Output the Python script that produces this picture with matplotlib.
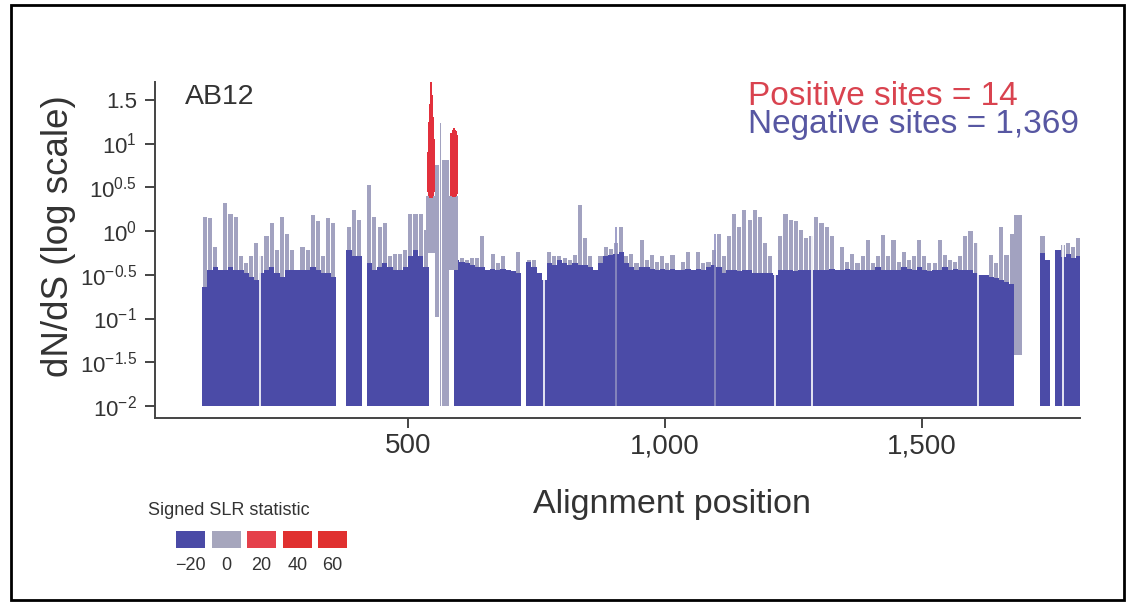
import numpy as np
import matplotlib.pyplot as plt
from matplotlib.patches import Rectangle

plt.rcParams['font.family'] = ['Liberation Sans', 'DejaVu Sans']
plt.rcParams['mathtext.fontset'] = 'custom'
plt.rcParams['mathtext.rm'] = 'Liberation Sans'
plt.rcParams['mathtext.it'] = 'Liberation Sans:italic'
plt.rcParams['mathtext.bf'] = 'Liberation Sans:bold'

# per-site values are binned by 10 alignment positions, starting at 100
# heights are log10(dN/dS); None = no sites in that bin
bin_start = 100
bin_width = 10

# upper end of the blue (negative SLR) sites per bin
blue_top = [
    -0.64, -0.45, -0.41, -0.45, -0.45, -0.41, -0.45, -0.45, -0.48, -0.52,
    -0.56, -0.48, -0.45, -0.41, -0.48, -0.52, -0.45, -0.45, -0.45, -0.45,
    -0.45, -0.41, -0.45, -0.48, -0.48, -0.52, None, None, -0.22, -0.29,
    -0.29, None, -0.37, -0.45, -0.41, -0.37, -0.41, -0.45, -0.45, -0.41,
    -0.29, -0.22, -0.29, -0.41, None, None, None, None, None, -0.33,
    -0.35, -0.37, -0.39, -0.41, -0.41, -0.45, -0.43, -0.45, -0.43, -0.45,
    -0.46, -0.48, None, -0.35, -0.41, -0.48, -0.56, -0.37, -0.39, -0.33,
    -0.37, -0.39, -0.37, -0.39, -0.39, -0.41, -0.45, -0.37, -0.29, -0.27,
    -0.26, -0.24, -0.37, -0.41, -0.45, -0.41, -0.41, -0.43, -0.45, -0.43,
    -0.45, -0.43, -0.45, -0.45, -0.43, -0.45, -0.43, -0.45, -0.41, -0.39,
    -0.41, -0.48, -0.45, -0.45, -0.46, -0.45, -0.45, -0.48, -0.48, -0.48,
    -0.48, -0.50, -0.45, -0.45, -0.45, -0.46, -0.45, -0.45, -0.45, -0.45,
    -0.45, -0.45, -0.43, -0.45, -0.45, -0.43, -0.45, -0.45, -0.45, -0.45,
    -0.45, -0.41, -0.45, -0.45, -0.45, -0.45, -0.41, -0.43, -0.45, -0.41,
    -0.45, -0.46, -0.45, -0.45, -0.41, -0.45, -0.43, -0.45, -0.45, -0.45,
    -0.48, -0.50, -0.50, -0.52, -0.54, -0.56, -0.58, -0.60, None, None,
    None, None, None, -0.25, -0.33, None, -0.22, -0.30, -0.26, -0.31,
    -0.29,
]

# upper end of the grey (near-neutral) sites per bin
grey_top = [
    0.16, 0.145, -0.18, None, 0.32, 0.20, 0.16, -0.29, -0.37, -0.29,
    -0.14, -0.29, -0.06, 0.09, -0.22, 0.16, -0.03, -0.22, None, -0.18,
    -0.22, 0.18, 0.11, -0.29, 0.15, 0.09, None, None, 0.05, 0.24,
    0.13, None, 0.53, 0.16, 0.05, 0.09, -0.29, -0.26, -0.26, -0.22,
    0.20, 0.20, 0.20, 0.01, None, None, None, None, None, None,
    -0.31, -0.33, -0.31, -0.31, -0.06, None, -0.26, -0.37, -0.29, None,
    None, -0.24, None, -0.33, -0.33, None, None, -0.24, -0.29, -0.29,
    -0.31, -0.33, -0.27, 0.30, -0.08, -0.29, None, -0.29, -0.18, -0.20,
    -0.14, 0.05, -0.29, -0.26, -0.37, -0.10, -0.33, -0.27, -0.35, -0.29,
    -0.37, -0.27, None, -0.35, -0.24, None, -0.24, -0.37, -0.35, -0.22,
    -0.03, -0.29, -0.06, 0.20, 0.05, 0.24, 0.13, 0.24, 0.16, -0.14,
    -0.29, None, -0.06, 0.20, 0.13, 0.11, 0.01, -0.08, -0.06, 0.16,
    0.09, 0.05, -0.06, None, -0.18, -0.35, -0.26, -0.37, -0.29, -0.10,
    -0.37, -0.29, -0.05, -0.29, -0.10, -0.35, -0.24, -0.33, -0.29, -0.10,
    -0.29, -0.37, -0.37, -0.10, -0.27, -0.33, -0.35, -0.29, -0.06, 0.00,
    -0.14, None, None, -0.27, -0.37, 0.05, -0.27, -0.03, None, None,
    None, None, None, -0.06, None, None, None, -0.16, -0.14, -0.18,
    -0.08,
]

# grey sites whose interval does not reach the bottom of the plot
float_start = [536, 552, 562, 566, 580, 1679]
float_end = [552, 560, 565, 581, 597, 1695]
float_low = [-0.25, -0.98, -2.0, -2.0, -0.45, -1.42]
float_high = [0.40, 0.75, 1.23, 0.81, 0.40, 0.18]

# the 14 positively selected sites
red_pos = [538, 540, 542, 544, 546, 548, 550, 583, 585, 587, 589, 591, 593, 595]
red_low = [0.45, 0.40, 0.38, 0.38, 0.38, 0.40, 0.45, 0.40, 0.39, 0.39, 0.39, 0.39, 0.40, 0.42]
red_high = [0.90, 1.25, 1.45, 1.75, 1.55, 1.30, 1.05, 1.12, 1.16, 1.18, 1.18, 1.16, 1.14, 1.10]

# single empty columns and single light-grey columns inside the blue block
white_pos = [212, 765, 1214, 1287, 1609, 1775]
light_pos = [905, 1097]
light_top = [0.05, -0.03]

yticks = [-2, -1.5, -1, -0.5, 0, 0.5, 1, 1.5]
ytick_labels = [r'$10^{-2}$', r'$10^{-1.5}$', r'$10^{-1}$', r'$10^{-0.5}$',
                r'$10^{0}$', r'$10^{0.5}$', r'$10^{1}$', '1.5']
xticks = [500, 1000, 1500]
xtick_labels = ['500', '1,000', '1,500']

legend_labels = ['\u221220', '0', '20', '40', '60']
legend_colors = ['#4a4aa6', '#a6a6bd', '#e5404a', '#e0302f', '#e0302f']

BLUE = '#4b4ba7'
GREY = '#a2a2c0'
RED = '#e2303c'
INK = '#333333'

W, H = 1132, 603
def fx(px):
    return px / W
def fy(py):
    return 1 - py / H

fig = plt.figure(figsize=(W / 100, H / 100), dpi=100)
ax = fig.add_axes([fx(155), fy(418), (1080 - 155) / W, (418 - 82) / H])

n = len(blue_top)
pos = bin_start + bin_width * np.arange(n)
g = np.array([np.nan if v is None else v for v in grey_top])
b = np.array([np.nan if v is None else v for v in blue_top])

gm = ~np.isnan(g)
ax.bar(pos[gm] + 1, g[gm] + 2, width=8, bottom=-2, align='edge',
       color=GREY, linewidth=0)
bm = ~np.isnan(b)
ax.bar(pos[bm], b[bm] + 2, width=10.4, bottom=-2, align='edge',
       color=BLUE, linewidth=0)

fs = np.array(float_start)
fe = np.array(float_end)
fl = np.array(float_low)
fh = np.array(float_high)
ax.bar(fs, fh - fl, width=fe - fs, bottom=fl, align='edge', color=GREY, linewidth=0)

rl = np.array(red_low)
rh = np.array(red_high)
ax.bar(red_pos, rh - rl, width=2.3, bottom=rl, align='edge', color=RED, linewidth=0)

ax.vlines(light_pos, -2, light_top, color='#8f8fc0', lw=1.2)
ax.vlines(white_pos, -2, 0.6, color='white', lw=1.2)

ax.set_xlim(8, 1808)
ax.set_ylim(-2.137, 1.703)
for s in ['top', 'right']:
    ax.spines[s].set_visible(False)
for s in ['left', 'bottom']:
    ax.spines[s].set_color('#444444')
    ax.spines[s].set_linewidth(1.4)

ax.set_yticks(yticks)
ax.set_yticklabels(ytick_labels)
ax.set_xticks(xticks)
ax.set_xticklabels(xtick_labels)
ax.tick_params(axis='y', labelsize=16, length=7, width=1.4, color='#444444',
               labelcolor=INK, pad=6)
ax.tick_params(axis='x', labelsize=20, length=7, width=1.4, color='#444444',
               labelcolor=INK, pad=4)

fig.text(fx(58), fy(236), 'dN/dS (log scale)', rotation=90, fontsize=26.5,
         color=INK, ha='center', va='center')
fig.text(fx(672), fy(504), 'Alignment position', fontsize=24.5, color=INK,
         ha='center', va='center')
fig.text(fx(185), fy(104), 'AB12', fontsize=20.5, color=INK, va='baseline')
fig.text(fx(748), fy(105), 'Positive sites = 14', fontsize=24, color='#d9434f',
         va='baseline')
fig.text(fx(748), fy(133), 'Negative sites = 1,369', fontsize=24, color='#5757a2',
         va='baseline')

# SLR colour key
fig.text(fx(148), fy(515), 'Signed SLR statistic', fontsize=13, color=INK,
         va='baseline')
key_x = [176, 212, 247, 283, 318]
for i, (lab, col) in enumerate(zip(legend_labels, legend_colors)):
    fig.add_artist(Rectangle((fx(key_x[i]), fy(548)), 29 / W, 17 / H,
                             transform=fig.transFigure, color=col, lw=0))
    fig.text(fx(key_x[i] + 14.5), fy(570), lab, fontsize=13, color=INK,
             ha='center', va='baseline')

fig.add_artist(Rectangle((fx(11), fy(600)), (1124 - 11) / W, (600 - 5) / H,
                         transform=fig.transFigure, fill=False,
                         edgecolor='black', lw=2))

fig.savefig('out.png', dpi=100)
